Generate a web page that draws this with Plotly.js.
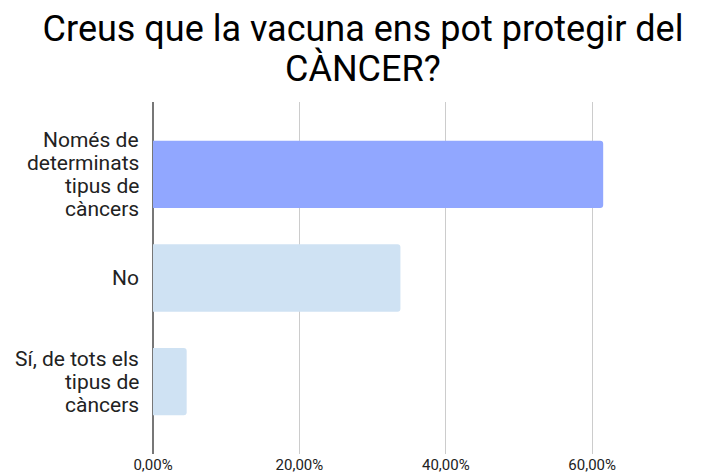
<!DOCTYPE html>
<html>
<head>
<meta charset="utf-8">
<script src="https://cdn.plot.ly/plotly-3.0.1.min.js"></script>
<style>
  html, body { margin: 0; padding: 0; background: #ffffff; }
  #chart { width: 726px; height: 474px; }
</style>
</head>
<body>
<div id="chart"></div>
<script>
// Survey answers: "Can the vaccine protect us from CANCER?"
const titleLines = ['Creus que la vacuna ens pot protegir del', 'CÀNCER?'];
const categories = [
  'Només de determinats tipus de càncers',
  'No',
  'Sí, de tots els tipus de càncers'
];
// Category labels broken into lines as they are printed beside each bar
const labelLines = [
  ['Només de', 'determinats', 'tipus de', 'càncers'],
  ['No'],
  ['Sí, de tots els', 'tipus de', 'càncers']
];
const shares = [0.615, 0.338, 0.046];
const barColors = ['#91a7ff', '#cfe2f3', '#cfe2f3'];
const tickValues = [0, 0.2, 0.4, 0.6];

const FONT = 'Roboto, "Noto Sans", Arial, sans-serif';
const LINE_H = 23;
const W = 726, ML = 153, MR = 24;
// horizontal centre of the page, expressed in plot-area (paper) units
const pageCentre = (W / 2 - ML) / (W - ML - MR);

const annotations = [];
labelLines.forEach((lines, i) => {
  const n = lines.length;
  lines.forEach((line, j) => {
    annotations.push({
      xref: 'paper', yref: 'y',
      x: 0, y: categories[i],
      xanchor: 'right', yanchor: 'middle',
      xshift: -12,
      yshift: ((n - 1) / 2 - j) * LINE_H,
      text: line,
      showarrow: false,
      font: { family: FONT, size: 21, color: '#222222' }
    });
  });
});
// second line of the heading
annotations.push({
  xref: 'paper', yref: 'paper',
  x: pageCentre, y: 1, xanchor: 'center', yanchor: 'bottom',
  yshift: 10,
  text: titleLines[1], showarrow: false,
  font: { family: FONT, size: 36, color: '#000000' }
});

const trace = {
  type: 'bar',
  orientation: 'h',
  y: categories,
  x: shares,
  width: 0.65,
  marker: { color: barColors, cornerradius: 3, line: { width: 0 } },
  hoverinfo: 'x+y'
};

const layout = {
  width: W, height: 474,
  paper_bgcolor: '#ffffff', plot_bgcolor: '#ffffff',
  separators: ',.',
  margin: { l: ML, r: MR, t: 102, b: 20 },
  showlegend: false,
  title: {
    text: titleLines[0],
    x: 0.5, xanchor: 'center', xref: 'container',
    y: 1, yref: 'container', yanchor: 'top', pad: { t: 16 },
    font: { family: FONT, size: 36, color: '#000000' }
  },
  xaxis: {
    range: [0, 0.75],
    tickvals: tickValues,
    tickformat: '.2%',
    showgrid: true, gridcolor: '#cccccc', gridwidth: 1,
    zeroline: true, zerolinecolor: '#777777', zerolinewidth: 2,
    showline: false, ticks: '',
    ticklabelstandoff: 0,
    tickfont: { family: FONT, size: 15, color: '#222222' },
    fixedrange: true
  },
  yaxis: {
    type: 'category',
    range: [2.7, -0.7],
    showticklabels: false,
    showgrid: false, zeroline: false, showline: false, ticks: '',
    fixedrange: true
  },
  annotations: annotations,
  bargap: 0.35
};

Plotly.newPlot('chart', [trace], layout, { displayModeBar: false, staticPlot: true });
</script>
</body>
</html>
